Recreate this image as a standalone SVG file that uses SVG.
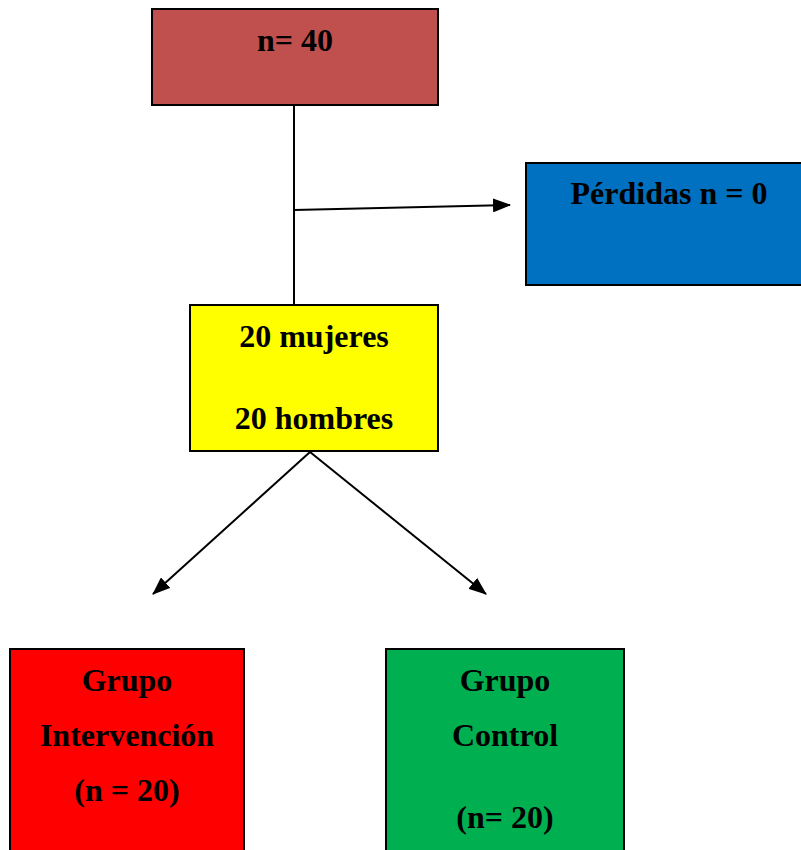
<svg xmlns="http://www.w3.org/2000/svg" width="801" height="850" viewBox="0 0 801 850">
<style>
.box{stroke:#000;stroke-width:2}
.t{font-family:"Liberation Serif","Times New Roman",serif;font-weight:bold;font-size:32px;fill:#000;text-anchor:middle}
.c{stroke:#000;stroke-width:2;fill:none}
</style>
<defs>
<marker id="ah" viewBox="0 0 18 14" refX="17" refY="7" markerWidth="9" markerHeight="7" markerUnits="strokeWidth" orient="auto">
<path d="M0,0 L18,7 L0,14 Z" fill="#000"/>
</marker>
</defs>
<rect width="801" height="850" fill="#fff"/>
<g id="connectors">
<line class="c" x1="294" y1="105" x2="294" y2="305"/>
<line class="c" x1="294" y1="210" x2="510" y2="205" marker-end="url(#ah)"/>
<line class="c" x1="310" y1="452" x2="153" y2="594" marker-end="url(#ah)"/>
<line class="c" x1="310" y1="452" x2="486" y2="594" marker-end="url(#ah)"/>
</g>
<g id="n40">
<rect class="box" x="152" y="9" width="286" height="96" fill="#C0504D"/>
<text class="t" x="295" y="51">n= 40</text>
</g>
<g id="perdidas">
<rect class="box" x="526" y="163" width="285" height="122" fill="#0070C0"/>
<text class="t" x="669" y="204">Pérdidas n = 0</text>
</g>
<g id="sexo">
<rect class="box" x="190" y="305" width="248" height="146" fill="#FFFF00"/>
<text class="t" x="314" y="347">20 mujeres</text>
<text class="t" x="314" y="429">20 hombres</text>
</g>
<g id="intervencion">
<rect class="box" x="10" y="649" width="234" height="210" fill="#FF0000"/>
<text class="t" x="127" y="691">Grupo</text>
<text class="t" x="127" y="746">Intervención</text>
<text class="t" x="127" y="801">(n = 20)</text>
</g>
<g id="control">
<rect class="box" x="386" y="649" width="238" height="210" fill="#00B050"/>
<text class="t" x="505" y="691">Grupo</text>
<text class="t" x="505" y="746">Control</text>
<text class="t" x="505" y="828">(n= 20)</text>
</g>
</svg>
